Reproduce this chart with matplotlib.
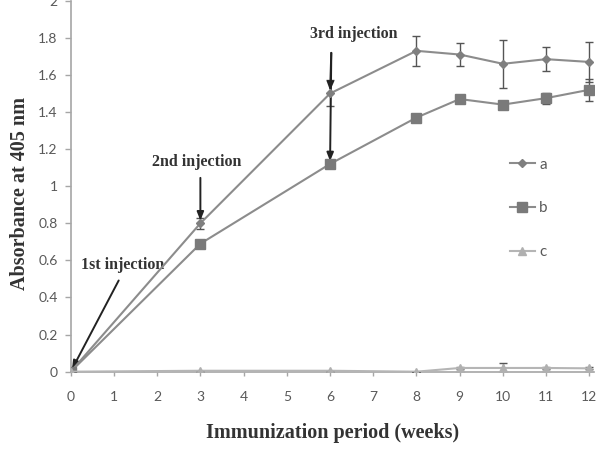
import matplotlib
matplotlib.use("Agg")
import matplotlib.pyplot as plt

weeks = [0, 3, 6, 8, 9, 10, 11, 12]
a_vals = [0.0, 0.80, 1.50, 1.73, 1.71, 1.66, 1.685, 1.67]
a_err = [0.0, 0.03, 0.07, 0.08, 0.06, 0.13, 0.065, 0.11]
b_vals = [0.0, 0.69, 1.12, 1.37, 1.47, 1.44, 1.475, 1.52]
b_err = [0.0, 0.01, 0.01, 0.01, 0.01, 0.01, 0.03, 0.06]
c_vals = [0.0, 0.005, 0.005, 0.0, 0.02, 0.02, 0.02, 0.018]
c_err = [0.0, 0.0, 0.0, 0.0, 0.005, 0.025, 0.005, 0.005]
yticks = [0, 0.2, 0.4, 0.6, 0.8, 1, 1.2, 1.4, 1.6, 1.8, 2]
ytick_labels = ["0", "0.2", "0.4", "0.6", "0.8", "1", "1.2", "1.4", "1.6", "1.8", "2"]
xticks = list(range(0, 13))

fig = plt.figure(figsize=(6.06, 4.66), dpi=100)
ax = fig.add_axes([0.1167, 0.2024, 0.863, 0.796])

ax.errorbar(weeks, a_vals, yerr=a_err, color="#8c8c8c", lw=1.5, marker="D", ms=4.5,
            mfc="#7f7f7f", mec="#7f7f7f", ecolor="#555555", elinewidth=1.0, capsize=3,
            label="a", zorder=3)
ax.errorbar(weeks, b_vals, yerr=b_err, color="#8c8c8c", lw=1.5, marker="s", ms=6.5,
            mfc="#7a7a7a", mec="#7a7a7a", ecolor="#555555", elinewidth=1.0, capsize=3,
            label="b", zorder=3)
ax.errorbar(weeks, c_vals, yerr=c_err, color="#b5b5b5", lw=1.5, marker="^", ms=6,
            mfc="#b0b0b0", mec="#b0b0b0", ecolor="#555555", elinewidth=1.0, capsize=3,
            label="c", zorder=3)

ax.set_xlim(0, 12.1)
ax.set_ylim(0, 2)
ax.set_yticks(yticks)
ax.set_yticklabels(ytick_labels)
ax.set_xticks(xticks)

for s in ["top", "right"]:
    ax.spines[s].set_visible(False)
for s in ["left", "bottom"]:
    ax.spines[s].set_color("#a6a6a6")
    ax.spines[s].set_linewidth(1.2)

ax.tick_params(axis="y", direction="out", length=4.5, width=1, color="#a6a6a6",
               labelcolor="#595959", labelsize=10, pad=5)
ax.tick_params(axis="x", direction="out", length=3, width=1, color="#a6a6a6",
               labelcolor="#595959", labelsize=10, pad=11)
for lab in ax.get_xticklabels() + ax.get_yticklabels():
    lab.set_family(["Lato", "DejaVu Sans"])

serif = ["Liberation Serif", "DejaVu Serif"]
ax.set_xlabel("Immunization period (weeks)", family=serif, fontweight="bold",
              fontsize=14.5, color="#333333", labelpad=14)
fig.text(0.033, 0.584, "Absorbance at 405 nm", family=serif, fontweight="bold",
         fontsize=14.5, color="#333333", rotation=90, ha="center", va="center")

arrow_kw = dict(arrowstyle="-|>,head_length=0.5,head_width=0.2", color="#222222", lw=1.4)
ax.annotate("", xy=(0.0, 0.0), xytext=(1.14, 0.505), arrowprops=arrow_kw)
ax.annotate("", xy=(3.0, 0.80), xytext=(3.0, 1.06), arrowprops=arrow_kw)
ax.annotate("", xy=(6.0, 1.12), xytext=(6.03, 1.734), arrowprops=arrow_kw)
ax.annotate("", xy=(6.0, 1.50), xytext=(6.03, 1.734), arrowprops=arrow_kw)

ann_kw = dict(family=serif, fontweight="bold", fontsize=11.5, color="#333333",
              ha="center", va="center")
ax.text(1.19, 0.575, "1st injection", **ann_kw)
ax.text(2.92, 1.13, "2nd injection", **ann_kw)
ax.text(6.55, 1.82, "3rd injection", **ann_kw)

handles, labels = ax.get_legend_handles_labels()
handles = [h[0] for h in handles]
leg = fig.legend(handles, labels, loc="center", bbox_to_anchor=(0.873, 0.553),
                 frameon=False, labelspacing=1.95, handlelength=1.6, handletextpad=0.3,
                 prop={"family": ["Lato", "DejaVu Sans"], "size": 11})
for t in leg.get_texts():
    t.set_color("#595959")

fig.savefig("out.png", dpi=100)
